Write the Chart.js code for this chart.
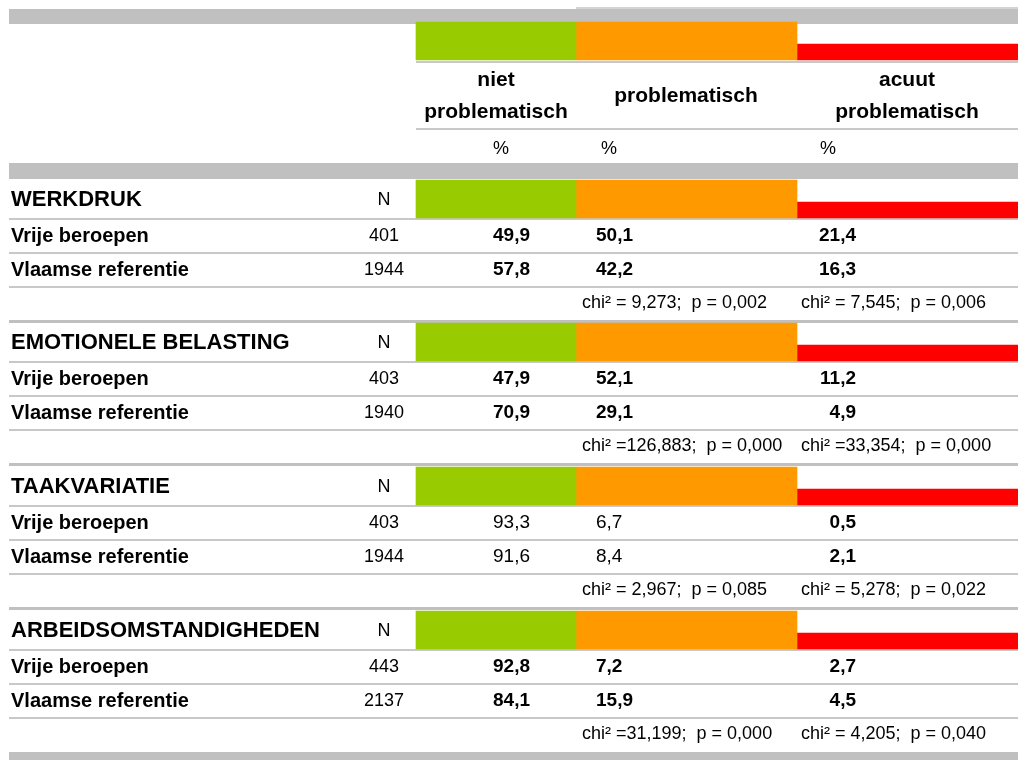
<!DOCTYPE html>
<html>
<head>
<meta charset="utf-8">
<script src="https://cdn.jsdelivr.net/npm/chart.js@4/dist/chart.umd.min.js"></script>
<style>
  body { margin: 0; background: #fff; }
  #wrap { width: 1018px; height: 760px; }
</style>
</head>
<body>
<div id="wrap"><canvas id="chart-area" width="1018" height="760"></canvas></div>
<script>
// table content
var categories = [['niet', 'problematisch'], ['problematisch'], ['acuut', 'problematisch']];
var themes = ['WERKDRUK', 'EMOTIONELE BELASTING', 'TAAKVARIATIE', 'ARBEIDSOMSTANDIGHEDEN'];
var groups = ['Vrije beroepen', 'Vlaamse referentie'];
var nVrije = [401, 403, 403, 443];
var nVlaams = [1944, 1940, 1944, 2137];
var nietVrije = [49.9, 47.9, 93.3, 92.8];
var nietVlaams = [57.8, 70.9, 91.6, 84.1];
var probVrije = [50.1, 52.1, 6.7, 7.2];
var probVlaams = [42.2, 29.1, 8.4, 15.9];
var acuutVrije = [21.4, 11.2, 0.5, 2.7];
var acuutVlaams = [16.3, 4.9, 2.1, 4.5];
var chiProb = [9.273, 126.883, 2.967, 31.199];
var pProb = [0.002, 0.000, 0.085, 0.000];
var chiAcuut = [7.545, 33.354, 5.278, 4.205];
var pAcuut = [0.006, 0.000, 0.022, 0.040];

// layout (table units = px)
var COLS = [[416, 576], [576, 797], [797, 1018]];
var TOP = [180, 323, 467, 611];
var HEAD_Y = 41;
var FONT = '"Liberation Sans", Arial, sans-serif';
var GREY = '#c0c0c0';

function nl(v, d) { return v.toFixed(d).replace('.', ','); }
function chiText(c, p) { return 'chi² =' + (c < 10 ? ' ' : '') + nl(c, 3) + ';  p = ' + nl(p, 3); }

function blocks(col, dy) {
  var pts = [{ x: COLS[col], y: HEAD_Y + (dy || 0) }];
  themes.forEach(function (t, i) { pts.push({ x: COLS[col], y: TOP[i] + 19 + (dy || 0) }); });
  return pts;
}

var tablePlugin = {
  id: 'table',
  beforeDatasetsDraw: function (chart) {
    var ctx = chart.ctx, sx = chart.scales.x, sy = chart.scales.y;
    function rect(x0, x1, y0, y1, c) {
      ctx.fillStyle = c;
      var px = sx.getPixelForValue(x0), py = sy.getPixelForValue(y0);
      ctx.fillRect(px, py, sx.getPixelForValue(x1) - px, sy.getPixelForValue(y1) - py);
    }
    ctx.save();
    rect(576, 1018, 7, 9, '#d4d4d4');
    rect(9, 1018, 9, 24, GREY);
    rect(416, 1018, 61, 63, '#c8c8c8');
    rect(416, 1018, 128, 130, '#c8c8c8');
    rect(9, 1018, 163, 179, GREY);
    TOP.forEach(function (t, i) {
      rect(9, 1018, t + 38, t + 40, '#c8c8c8');
      rect(9, 1018, t + 72, t + 74, '#c8c8c8');
      rect(9, 1018, t + 106, t + 108, '#c8c8c8');
      if (i < TOP.length - 1) rect(9, 1018, t + 140, t + 143, GREY);
    });
    rect(9, 1018, 752, 760, GREY);
    ctx.restore();
  },
  afterDatasetsDraw: function (chart) {
    var ctx = chart.ctx, sx = chart.scales.x, sy = chart.scales.y;
    function text(s, x, y, align, font) {
      ctx.font = font;
      ctx.textAlign = align;
      ctx.fillText(s, sx.getPixelForValue(x), sy.getPixelForValue(y));
    }
    ctx.save();
    ctx.fillStyle = '#000';
    ctx.textBaseline = 'middle';
    var hb = 'bold 21px ' + FONT, rg = '18px ' + FONT;
    // header
    text(categories[0][0], 496, 80, 'center', hb);
    text(categories[0][1], 496, 112, 'center', hb);
    text(categories[1][0], 686, 96, 'center', hb);
    text(categories[2][0], 907, 80, 'center', hb);
    text(categories[2][1], 907, 112, 'center', hb);
    text('%', 501, 149, 'center', rg);
    text('%', 601, 149, 'left', rg);
    text('%', 820, 149, 'left', rg);
    // sections
    themes.forEach(function (t, i) {
      var T = TOP[i];
      var b1 = pProb[i] < 0.05 ? 'bold 19px ' + FONT : '19px ' + FONT;
      var b3 = pAcuut[i] < 0.05 ? 'bold 19px ' + FONT : '19px ' + FONT;
      text(t, 11, T + 20, 'left', 'bold 22px ' + FONT);
      text('N', 384, T + 20, 'center', rg);
      var rows = [[nVrije, nietVrije, probVrije, acuutVrije], [nVlaams, nietVlaams, probVlaams, acuutVlaams]];
      rows.forEach(function (r, k) {
        var y = T + 56 + k * 34;
        text(groups[k], 11, y, 'left', 'bold 20px ' + FONT);
        text(String(r[0][i]), 384, y, 'center', rg);
        text(nl(r[1][i], 1), 530, y, 'right', b1);
        text(nl(r[2][i], 1), 596, y, 'left', b1);
        text(nl(r[3][i], 1), 856, y, 'right', b3);
      });
      text(chiText(chiProb[i], pProb[i]), 582, T + 123, 'left', rg);
      text(chiText(chiAcuut[i], pAcuut[i]), 801, T + 123, 'left', rg);
    });
    ctx.restore();
  }
};

var config = {
  type: 'bar',
  data: {
    datasets: [
      { label: 'niet problematisch', data: blocks(0), backgroundColor: '#99cc00', barThickness: 38 },
      { label: 'problematisch', data: blocks(1), backgroundColor: '#ff9900', barThickness: 38 },
      { label: 'acuut problematisch', data: blocks(2, 11), backgroundColor: '#ff0000', barThickness: 16 }
    ]
  },
  options: {
    indexAxis: 'y',
    responsive: false,
    animation: false,
    events: [],
    layout: { padding: 0 },
    datasets: { bar: { grouped: false, borderWidth: 0 } },
    scales: {
      x: { type: 'linear', min: 0, max: 1018, offset: false, display: false },
      y: { type: 'linear', min: 0, max: 760, reverse: true, offset: false, display: false }
    },
    plugins: { legend: { display: false }, tooltip: { enabled: false } }
  },
  plugins: [tablePlugin]
};

window.onload = function () {
  var ctx = document.getElementById('chart-area').getContext('2d');
  window.myTable = new Chart(ctx, config);
};
</script>
</body>
</html>
